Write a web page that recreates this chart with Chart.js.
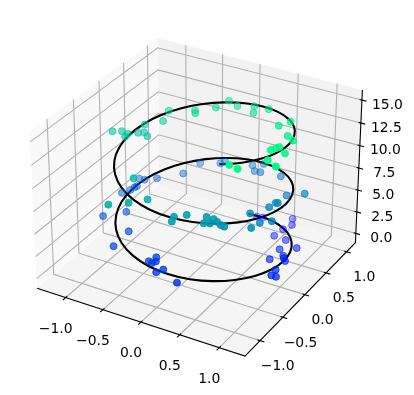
<!DOCTYPE html>
<html>
<head>
<meta charset="utf-8">
<style>html,body{margin:0;padding:0;background:#fff}canvas{display:block}</style>
<script src="https://cdn.jsdelivr.net/npm/chart.js@4"></script>
</head>
<body>
<canvas id="c" width="414" height="395"></canvas>
<script>
const xLim = [-1.39, 1.32];
const yLim = [-1.32, 1.22];
const zLim = [-1.09, 16.09];
const xTicks = [-1, -0.5, 0, 0.5, 1];
const yTicks = [-1, -0.5, 0, 0.5, 1];
const zTicks = [0, 2.5, 5, 7.5, 10, 12.5, 15];

const helixX = [0,.247,.479,.682,.841,.949,.997,.984,.909,.778,.598,.382,.141,-.108,-.351,-.572,-.757,-.895,-.978,-.999,-.959,-.859,-.706,-.508,-.279,-.033,.215,.451,.657,.823,.938,.995,.989,.923,.798,.625,.412,.174,-.075,-.319,-.544,-.735,-.880,-.970,-1,-.968,-.876,-.729,-.537,-.311,-.066,.183,.420,.632,.804,.926,.991,.994,.935,.818,.650];
const helixY = [1,.969,.878,.732,.540,.315,.071,-.178,-.416,-.628,-.801,-.924,-.990,-.994,-.936,-.821,-.654,-.446,-.211,.038,.284,.512,.709,.861,.960,.999,.977,.893,.754,.568,.347,.100,-.146,-.385,-.602,-.781,-.911,-.985,-.997,-.948,-.839,-.678,-.476,-.243,.004,.252,.483,.685,.844,.950,.998,.983,.907,.775,.596,.378,.137,-.113,-.355,-.575,-.760];
const helixZ = [0,.25,.5,.75,1,1.25,1.5,1.75,2,2.25,2.5,2.75,3,3.25,3.5,3.75,4,4.25,4.5,4.75,5,5.25,5.5,5.75,6,6.25,6.5,6.75,7,7.25,7.5,7.75,8,8.25,8.5,8.75,9,9.25,9.5,9.75,10,10.25,10.5,10.75,11,11.25,11.5,11.75,12,12.25,12.5,12.75,13,13.25,13.5,13.75,14,14.25,14.5,14.75,15];

const scatterX = [.14,.23,.57,.63,.61, .59,.77,.98,.83,.95, .98,1.03,.86,1.05,1.08, 1.14,.31,.07,.03,-.09, -.07,-.11,-.13,-.60,-.59, -.98,-.80,-1.03,-.98,-.97, -.95,-1.01,-.93,-.81,-.56, -.49,-.27,-.23,.12,.22, .29,.23,.57,.88,1.04, .90,.92,.89,1.05,.98, .80,.96,.73,.68,.62, .56,.58,.52,.49,.30, .22,.25,-.16,-.28,-.44, -.45,-.77,-.84,-.88,-.95, -.96,-1.04,-1.12,-.86,-.70, -.75,-.46,-.42,-.25,-.19, -.03,.15,.22,.35,.69, .76,.91,1.02,1.10,.98, .96,.93,1.03,1.18,.87, .75];
const scatterY = [.96,.94,1.05,.93,.75, .58,.53,.41,.28,.15, .11,.05,0,-.20,-.35, -.35,-1.07,-.97,-1.05,-.95, -.90,-.83,-.95,-.94,-.65, -.58,-.38,-.12,-.02,.05, .07,.21,.20,.28,.45, .71,.80,.84,.87,.75, .76,.94,.74,.32,.45, .04,.05,-.09,-.31,-.45, -.35,-.60,-.78,-.77,-.75, -.72,-.83,-.86,-.75,-.85, -.98,-1.07,-.91,-1.10,-1.25, -.74,.03,.07,.01,-.15, -.08,-.08,-.15,.12,.25, .45,.55,.49,.66,.85, .77,.84,.70,.82,.45, .59,.26,.18,-.14,-.05, -.09,-.15,-.39,-.48,-.75, -.72];
const scatterZ = [.2,.4,.6,.6,.9, .9,1.1,1.3,1.4,1.6, 1.6,1.7,1.7,2,2.2, 2.2,2.9,3.2,3.2,3.4, 3.4,3.4,3.5,3.9,4.2, 4.6,4.6,5,5,5, 5.1,5.2,5.3,5.4,5.8, 6,6.1,6.2,6.5,6.6, 6.6,6.6,6.9,7.4,7.4, 7.9,7.9,8,7.9,8.2, 8.3,8.3,8.7,8.7,8.8, 8.8,8.9,8.9,9,9.2, 9.4,9.4,10,10.2,10.3, 10.8,11.3,11.4,11.5,11.6, 11.6,11.7,11.8,12,12.2, 12.4,12.7,12.7,13,13.1, 13.2,13.3,13.3,13.5,14, 14,14.2,14.3,14.5,14.5, 14.5,14.5,14.7,14.8,15, 15];

// view of the 3d box (elev 30, azim -60), scale bounds are in projected units
const S3 = Math.sqrt(3), boxXY = .5953, boxZ = .4465, K = 2000, CX = 199.2, CY = 189.4;
const [x0, x1] = xLim, [y0, y1] = yLim, [z0, z1] = zLim;

function project(x, y, z) {
  const X = (x - (x0 + x1) / 2) / ((x1 - x0) / 2) * boxXY;
  const Y = (y - (y0 + y1) / 2) / ((y1 - y0) / 2) * boxXY;
  const Z = (z - (z0 + z1) / 2) / ((z1 - z0) / 2) * boxZ;
  const U = S3 / 2 * X + .5 * Y;
  const V = -.25 * X + S3 / 4 * Y + S3 / 2 * Z;
  const W = S3 / 4 * X - .75 * Y + .5 * Z;
  return { x: U / (10 - W), y: V / (10 - W), depth: W };
}

function segs(list) {
  const out = [];
  list.forEach(s => {
    s.forEach(p => out.push(project(p[0], p[1], p[2])));
    out.push({ x: NaN, y: NaN });
  });
  return out;
}

function lineSet(data, color, width, order) {
  return { data, showLine: true, pointRadius: 0, borderColor: color, borderWidth: width, order, spanGaps: false, tension: 0, fill: false };
}

function pane(corners, color) {
  return { data: corners.map(p => project(p[0], p[1], p[2])), showLine: true, pointRadius: 0, borderWidth: 0, borderColor: color, backgroundColor: color, fill: 'shape', order: 10, tension: 0 };
}

const grid = [];
xTicks.forEach(t => grid.push([[t, y0, z0], [t, y1, z0], [t, y1, z1]]));
yTicks.forEach(t => grid.push([[x1, t, z0], [x0, t, z0], [x0, t, z1]]));
zTicks.forEach(t => grid.push([[x0, y0, t], [x0, y1, t], [x1, y1, t]]));

const tickMarks = [];
xTicks.forEach(t => tickMarks.push([[t, y0 - .055, z0], [t, y0 + .03, z0]]));
yTicks.forEach(t => tickMarks.push([[x1 + .055, t, z0], [x1 - .03, t, z0]]));
zTicks.forEach(t => tickMarks.push([[x1 + .055, y1, t], [x1 - .03, y1, t]]));

const axisLines = [[[x0, y0, z0], [x1, y0, z0], [x1, y1, z0], [x1, y1, z1]]];

// far points first, winter colormap with depth shading
const pts = scatterX.map((x, i) => {
  const p = project(x, scatterY[i], scatterZ[i]);
  return { x: p.x, y: p.y, depth: p.depth, z: scatterZ[i] };
}).sort((a, b) => a.depth - b.depth);
const dMin = Math.min(...pts.map(p => p.depth));
const dMax = Math.max(...pts.map(p => p.depth));
const ptColor = p => {
  const t = p.z / 15;
  const al = .33 + .67 * (p.depth - dMin) / (dMax - dMin);
  return `rgba(0,${Math.round(255 * t)},${Math.round(255 * (1 - .5 * t))},${al.toFixed(2)})`;
};

const axisLabels = {
  id: 'axisLabels',
  afterDatasetsDraw(chart) {
    const c = chart.ctx, sx = chart.scales.x, sy = chart.scales.y;
    c.save();
    c.font = '13.9px "DejaVu Sans"';
    c.fillStyle = '#000';
    c.textAlign = 'center';
    c.textBaseline = 'middle';
    const put = (v, p, dx, dy) => c.fillText(v.toFixed(1).replace('-', '\u2212'), sx.getPixelForValue(p.x) + dx, sy.getPixelForValue(p.y) + dy);
    xTicks.forEach(t => put(t, project(t, y0, z0), -10, 31.7));
    yTicks.forEach(t => put(t, project(x1, t, z0), 17.7, 25.8));
    zTicks.forEach(t => put(t, project(x1, y1, t), 25.5, 5.2));
    c.restore();
  }
};

new Chart(document.getElementById('c'), {
  type: 'scatter',
  data: {
    datasets: [
      pane([[x0, y0, z0], [x0, y1, z0], [x0, y1, z1], [x0, y0, z1], [x0, y0, z0]], 'rgb(249,249,249)'),
      pane([[x0, y1, z0], [x1, y1, z0], [x1, y1, z1], [x0, y1, z1], [x0, y1, z0]], 'rgb(242,242,242)'),
      pane([[x0, y0, z0], [x1, y0, z0], [x1, y1, z0], [x0, y1, z0], [x0, y0, z0]], 'rgb(245,245,245)'),
      lineSet(segs(grid), '#b0b0b0', 1.1, 9),
      lineSet(segs(axisLines), '#000', 1.1, 8),
      lineSet(segs(tickMarks), '#000', 1.1, 8),
      Object.assign(lineSet(helixX.map((x, i) => project(x, helixY[i], helixZ[i])), '#000', 2.1, 5), { tension: .4 }),
      { data: pts, pointRadius: 3.5, pointBorderWidth: 1, pointBackgroundColor: pts.map(ptColor), pointBorderColor: pts.map(ptColor), order: 1 }
    ]
  },
  plugins: [axisLabels],
  options: {
    responsive: false,
    animation: false,
    layout: { padding: 0, autoPadding: false },
    plugins: { legend: { display: false }, tooltip: { enabled: false } },
    scales: {
      x: { type: 'linear', bounds: 'data', display: false, min: -CX / K, max: (414 - CX) / K },
      y: { type: 'linear', bounds: 'data', display: false, min: (CY - 395) / K, max: CY / K }
    }
  }
});
</script>
</body>
</html>
